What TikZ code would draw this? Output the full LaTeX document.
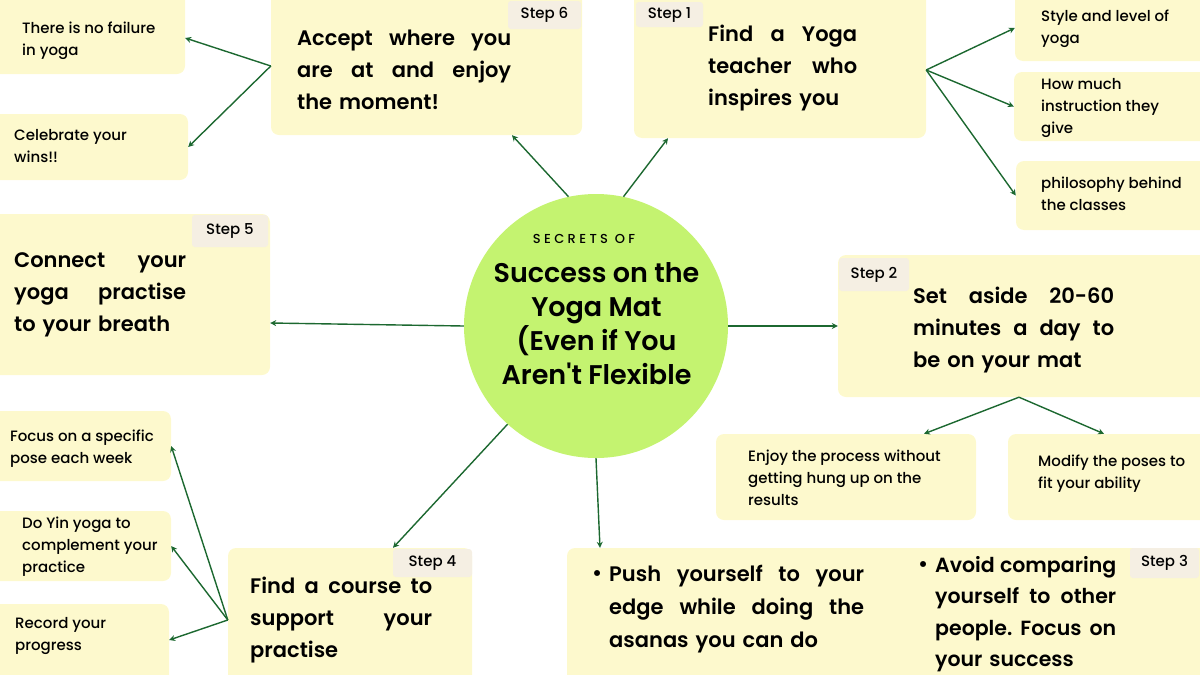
\documentclass[tikz,border=0pt]{standalone}
\usepackage{fontspec}
\setmainfont{Poppins Medium}[BoldFont={Poppins SemiBold}]
\usetikzlibrary{arrows.meta}
\definecolor{note}{RGB}{253,249,205}
\definecolor{tagc}{RGB}{245,239,227}
\definecolor{lime}{RGB}{196,243,112}
\definecolor{pine}{RGB}{28,104,48}
\newcommand{\jline}[1]{\makebox[\hsize][s]{\frenchspacing\spaceskip=.25em plus 1fil\relax #1}}
\tikzset{
  >={Stealth[length=6pt,width=6pt]},
  box/.style={fill=note,rounded corners=8pt,inner sep=0pt},
  tag/.style={fill=tagc,rounded corners=3pt,inner sep=0pt,font=\fontsize{15}{18}\selectfont},
  steptxt/.style={anchor=west,inner sep=0pt,align=left,font=\fontsize{21}{32}\selectfont\bfseries},
  subtxt/.style={anchor=west,inner sep=0pt,align=left,font=\fontsize{15}{22}\selectfont},
  flow/.style={->,line width=1.4pt,draw=pine},
}

\begin{document}
\begin{tikzpicture}[x=1pt,y=-1pt]
  \useasboundingbox (0,0) rectangle (1200,675);
  \clip (0,0) rectangle (1200,675);
  % step boxes
  \node[box,minimum width=311pt,minimum height=145pt] (s6) at (426.5,62.5) {};
  \node[box,minimum width=292pt,minimum height=148pt] (s1) at (780,64) {};
  \node[box,minimum width=280pt,minimum height=161pt] (s5) at (130,294.5) {};
  \node[box,minimum width=372pt,minimum height=142pt] (s2) at (1024,326) {};
  \node[box,minimum width=244pt,minimum height=137pt] (s4) at (350,616.5) {};
  \node[box,minimum width=643pt,minimum height=137pt] (s3) at (888.5,616.5) {};
  % small notes
  \node[box,minimum width=195pt,minimum height=84pt] (f1) at (87.5,32) {};
  \node[box,minimum width=198pt,minimum height=66pt] (f2) at (89,147) {};
  \node[box,minimum width=195pt,minimum height=71pt] (t1) at (1112.5,25.5) {};
  \node[box,minimum width=196pt,minimum height=69pt] (t2) at (1112,106.5) {};
  \node[box,minimum width=194pt,minimum height=69pt] (t3) at (1113,195.5) {};
  \node[box,minimum width=260pt,minimum height=86pt] (e1) at (846,477) {};
  \node[box,minimum width=202pt,minimum height=86pt] (e2) at (1109,477) {};
  \node[box,minimum width=181pt,minimum height=70pt] (l1) at (80.5,446) {};
  \node[box,minimum width=181pt,minimum height=70pt] (l2) at (80.5,546) {};
  \node[box,minimum width=179pt,minimum height=81pt] (l3) at (79.5,644.5) {};
  % tags
  \node[tag,minimum width=73pt,minimum height=28pt] (g6) at (544.5,15) {Step 6};
  \node[tag,minimum width=67pt,minimum height=25pt] (g1) at (669.5,14.5) {Step 1};
  \node[tag,minimum width=76pt,minimum height=32pt] (g5) at (230,231) {Step 5};
  \node[tag,minimum width=70pt,minimum height=33pt] (g2) at (874,274.5) {Step 2};
  \node[tag,minimum width=79pt,minimum height=28pt] (g4) at (432.5,563) {Step 4};
  \node[tag,minimum width=69pt,minimum height=30pt] (g3) at (1164.5,563) {Step 3};
  % hub
  \node[circle,fill=lime,minimum size=264pt,inner sep=0pt] (hub) at (596,326) {};
  \node[inner sep=0pt,font=\fontsize{13}{15}\selectfont\addfontfeature{LetterSpace=26}] (sec) at (584,239) {SECRETS OF};
  \node[inner sep=0pt,align=center,font=\fontsize{27}{34}\selectfont\bfseries] (title) at (596.5,324)
    {Success on the\\Yoga Mat\\(Even if You\\Aren\textquotesingle t Flexible};
  % step texts
  \node[steptxt,text width=214pt] (s6t) at (297,70) {\jline{Accept where you}\\\jline{are at and enjoy}\\the moment!};
  \node[steptxt,text width=149pt] (s1t) at (708,68) {\jline{Find a Yoga}\\\jline{teacher who}\\inspires you};
  \node[steptxt,text width=172pt] (s5t) at (14,295) {\jline{Connect your}\\\jline{yoga practise}\\to your breath};
  \node[steptxt,text width=201pt] (s2t) at (913,330) {\jline{Set aside 20-60}\\\jline{minutes a day to}\\be on your mat};
  \node[steptxt,text width=182pt] (s4t) at (250,620) {\jline{Find a course to}\\\jline{support your}\\practise};
  \node[steptxt,text width=255pt,font=\fontsize{21}{33}\selectfont\bfseries] (s3a) at (609,609)
    {\jline{Push yourself to your}\\\jline{edge while doing the}\\asanas you can do};
  \node[steptxt,text width=181pt,font=\fontsize{20.5}{31.5}\selectfont\bfseries] (s3b) at (935,614)
    {\jline{Avoid comparing}\\\jline{yourself to other}\\\jline{people. Focus on}\\your success};
  \node[steptxt] (b1) at (592,576) {\textbullet};
  \node[steptxt] (b2) at (918,567) {\textbullet};
  % note texts
  \node[subtxt] (f1t) at (22,41) {There is no failure\\in yoga};
  \node[subtxt] (f2t) at (14,146) {Celebrate your\\wins!!};
  \node[subtxt] (t1t) at (1041,29) {Style and level of\\yoga};
  \node[subtxt] (t2t) at (1041,108) {How much\\instruction they\\give};
  \node[subtxt] (t3t) at (1041,194) {philosophy behind\\the classes};
  \node[subtxt] (e1t) at (748,478) {Enjoy the process without\\getting hung up on the\\results};
  \node[subtxt] (e2t) at (1038,474) {Modify the poses to\\fit your ability};
  \node[subtxt] (l1t) at (10,449) {Focus on a specific\\pose each week};
  \node[subtxt] (l2t) at (22,547) {Do Yin yoga to\\complement your\\practice};
  \node[subtxt] (l3t) at (15,636) {Record your\\progress};
  % hub to steps
  \draw[flow] (hub.102) -- ([xshift=85.5pt]s6.south);
  \draw[flow] (hub.78) -- ([xshift=-112pt]s1.south);
  \draw[flow] (hub.west) -- ([yshift=-28.5pt]s5.east);
  \draw[flow] (hub.east) -- (s2.west);
  \draw[flow] (hub.228) -- ([xshift=43pt]s4.north);
  \draw[flow] (hub.south) -- ([xshift=-288.5pt]s3.north);
  % steps to notes
  \draw[flow] ([yshift=-3.5pt]s6.west) -- ([yshift=-6pt]f1.east); \draw[flow] ([yshift=-3.5pt]s6.west) -- (f2.east);
  \draw[flow] ([yshift=-6pt]s1.east) -- ([yshift=-2.5pt]t1.west); \draw[flow] ([yshift=-6pt]s1.east) -- (t2.west);
  \draw[flow] ([yshift=-6pt]s1.east) -- (t3.west);
  \draw[flow] ([xshift=-5pt]s2.south) -- ([xshift=78pt]e1.north); \draw[flow] ([xshift=-5pt]s2.south) -- ([xshift=-5pt]e2.north);
  \draw[flow] ([yshift=-3.5pt]s4.west) -- (l1.east); \draw[flow] ([yshift=-3.5pt]s4.west) -- (l2.east);
  \draw[flow] ([yshift=-3.5pt]s4.west) -- ([yshift=4.5pt]l3.east);
\end{tikzpicture}
\end{document}
